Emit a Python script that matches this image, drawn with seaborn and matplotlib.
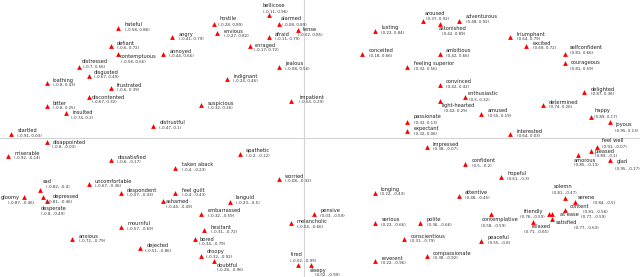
import matplotlib
matplotlib.use("Agg")
import matplotlib.pyplot as plt
import seaborn as sns
import pandas as pd

words = ["hateful", "defiant", "contemptuous", "distressed", "disgusted", "loathing",
         "frustrated", "discontented", "annoyed", "bellicose", "hostile", "alarmed",
         "angry", "envious", "afraid", "tense", "enraged", "jealous", "indignant",
         "impatient", "suspicious", "distrustful", "apathetic", "taken aback", "worried",
         "feel guilt", "languid", "embarrassed", "hesitant", "bored", "droopy", "doubtful",
         "melancholic", "pensive", "tired", "sleepy", "longing", "attentive", "serious",
         "polite", "conscientious", "reverent", "compassionate", "solemn", "serene",
         "content", "friendly", "at ease", "satisfied", "relaxed", "contemplative",
         "peaceful", "hopeful", "glad", "amorous", "pleased", "feel well", "confident",
         "interested", "joyous", "happy", "determined", "amused", "enthusiastic",
         "light-hearted", "passionate", "expectant", "impressed", "delighted",
         "courageous", "selfconfident", "excited", "triumphant", "adventurous",
         "aroused", "astonished", "lusting", "conceited", "ambitious", "feeling superior",
         "convinced", "bitter", "insulted", "startled", "disappointed", "miserable",
         "dissatisfied", "sad", "uncomfortable", "gloomy", "depressed", "desperate",
         "despondent", "mournful", "anxious", "dejected", "ashamed"]

valence = [-0.58, -0.60, -0.58, -0.70, -0.67, -0.80,
           -0.60, -0.67, -0.44, -0.11, -0.28, -0.08,
           -0.41, -0.27, -0.11, -0.02, -0.17, -0.08, -0.24,
           -0.04, -0.32, -0.47, -0.20, -0.40, -0.08,
           -0.40, -0.23, -0.32, -0.31, -0.34, -0.32, -0.28,
           -0.04, 0.03, -0.02, 0.02, 0.22, 0.48, 0.22,
           0.36, 0.31, 0.22, 0.38, 0.81, 0.84,
           0.81, 0.76, 0.77, 0.77, 0.71, 0.58,
           0.55, 0.61, 0.95, 0.85, 0.89, 0.91, 0.50,
           0.64, 0.95, 0.89, 0.74, 0.55, 0.50,
           0.42, 0.32, 0.32, 0.38, 0.87,
           0.81, 0.81, 0.69, 0.64, 0.48,
           0.37, 0.42, 0.22, 0.18, 0.42, 0.32,
           0.42, -0.80, -0.74, -0.91, -0.80, -0.92,
           -0.60, -0.82, -0.67, -0.87, -0.81, -0.80,
           -0.57, -0.57, -0.72, -0.51, -0.44]

arousal = [0.86, 0.72, 0.66, 0.56, 0.49, 0.43,
           0.39, 0.32, 0.66, 0.96, 0.89, 0.89,
           0.79, 0.82, 0.79, 0.85, 0.72, 0.56, 0.46,
           0.29, 0.26, 0.10, -0.12, -0.23, -0.32,
           -0.43, -0.50, -0.59, -0.72, -0.79, -0.92, -0.96,
           -0.66, -0.59, -0.99, -0.99, -0.43, -0.45, -0.66,
           -0.66, -0.79, -0.96, -0.92, -0.47, -0.50,
           -0.56, -0.59, -0.59, -0.63, -0.65, -0.59,
           -0.80, -0.30, -0.17, -0.13, -0.10, -0.07, -0.20,
           0.03, 0.13, 0.17, 0.26, 0.19, 0.32,
           0.29, 0.13, 0.06, -0.07, 0.36,
           0.59, 0.66, 0.72, 0.79, 0.92,
           0.92, 0.89, 0.84, 0.66, 0.66, 0.56,
           0.42, 0.25, 0.20, 0.03, -0.03, -0.14,
           -0.17, -0.40, -0.36, -0.46, -0.46, -0.49,
           -0.43, -0.69, -0.79, -0.86, -0.49]

# label layout (pixel offsets: word dx, word dy, coord dx, coord dy; dy downwards)
label_offsets = {
    "hateful": (7, -3.3), "defiant": (6, -3), "contemptuous": (2.7, 2.7, 3.3, 8.5),
    "distressed": (3, -5.3, 3.7, 0), "disgusted": (5.3, -3.3), "discontented": (3, -0.3),
    "annoyed": (6.7, -2.7), "bellicose": (-6.7, -9.7, -5.7, -3.6),
    "hostile": (5.3, -6, 4.3, 0.7), "alarmed": (2, -6.3, 3.7, 0.3),
    "envious": (6.3, -2.3), "tense": (5.3, 0, 0.3, 5), "enraged": (4.7, -1),
    "impatient": (8, -3.7), "suspicious": (6.3, -2), "languid": (5.3, -4.7),
    "bored": (4.3, 0), "droopy": (5, -4.3), "doubtful": (2.7, 4.3),
    "melancholic": (5.3, -1), "tired": (-6.7, -10.3, -8.3, -4.3),
    "sleepy": (-1.3, 5, 4.3, 10), "longing": (5.3, -4),
    "solemn": (-11.7, -11.7, -12.7, -5.3), "serene": (3.3, -5, 18, 0.3),
    "content": (5, -3.6, 18.3, 1.7), "friendly": (-25.3, -2.7, -28.7, 3.3),
    "at ease": (7.3, 1, 28.3, 3.3), "satisfied": (4, 3.3, 21.7, 9),
    "relaxed": (-1.3, 4.7, -9, 10.3), "contemplative": (-9.7, 6, -9.7, 11.7),
    "glad": (6.3, 1.3, 4.7, 8.7), "amorous": (-4.3, 5.3, -4.3, 10.3),
    "pleased": (3.7, 0.3), "feel well": (4.7, -6.3, 4.7, -0.7),
    "joyous": (4.7, 3.3, 4.7, 9.7), "happy": (4, -5.7, 3, 0),
    "enthusiastic": (2.7, -4, 3.3, 2.3), "light-hearted": (1.7, 4, 4, 10.3),
    "passionate": (6.3, -4.7, 6.3, 1.3), "expectant": (6.3, -2),
    "courageous": (5.3, 0, 5.3, 6.3), "selfconfident": (4.7, -6, 4.7, -1),
    "adventurous": (6.7, -3.7), "aroused": (1.7, -7, 3, -2),
    "astonished": (-0.7, 4, 2.7, 9.3), "insulted": (6.3, -0.7, 4.7, 5),
    "startled": (6, -3.7), "disappointed": (5.7, 0, 5.7, 4.7),
    "sad": (2.7, -8.3, 6, -3), "gloomy": (-23, 0, -16.3, 6),
    "depressed": (9.4, -1, 2.7, 4.7), "desperate": (-6, 7.6, -6, 12.6),
    "dejected": (6.7, -3.3, 4.7, 2.3), "ashamed": (3, 0.7),
}
default_offset = (6.3, -3)

df = pd.DataFrame({"word": words, "valence": valence, "arousal": arousal})

W, H, DPI = 640, 277, 100
fig = plt.figure(figsize=(W / DPI, H / DPI), dpi=DPI)
ax = fig.add_axes([0, 0, 1, 1])
ax.axhline(0, color="#d4d4d4", lw=0.8, zorder=0)
ax.axvline(0, color="#d4d4d4", lw=0.8, zorder=0)
sns.scatterplot(data=df, x="valence", y="arousal", marker="^", color="#ff0000",
                s=12, linewidth=0, ax=ax, zorder=3)

def fmt(v):
    return f"{v:g}"

for w, vx, vy in zip(words, valence, arousal):
    off = label_offsets.get(w, default_offset)
    if len(off) == 2:
        wdx, wdy = off
        cdx, cdy = wdx, wdy + 5
    else:
        wdx, wdy, cdx, cdy = off
    ax.annotate(w, (vx, vy), xytext=(wdx, -wdy), textcoords="offset pixels",
                ha="left", va="center", fontsize=3.7, color="#222222",
                family="DejaVu Sans")
    ax.annotate(f"({fmt(vx)}, {fmt(vy)})", (vx, vy), xytext=(cdx, -cdy),
                textcoords="offset pixels", ha="left", va="center",
                fontsize=2.9, color="#333333", family="DejaVu Sans")

ax.set_xlim(-0.945, 1.0425)
ax.set_ylim(-1.0836, 1.0805)
ax.axis("off")
fig.savefig("out.png", dpi=DPI, facecolor="white")
